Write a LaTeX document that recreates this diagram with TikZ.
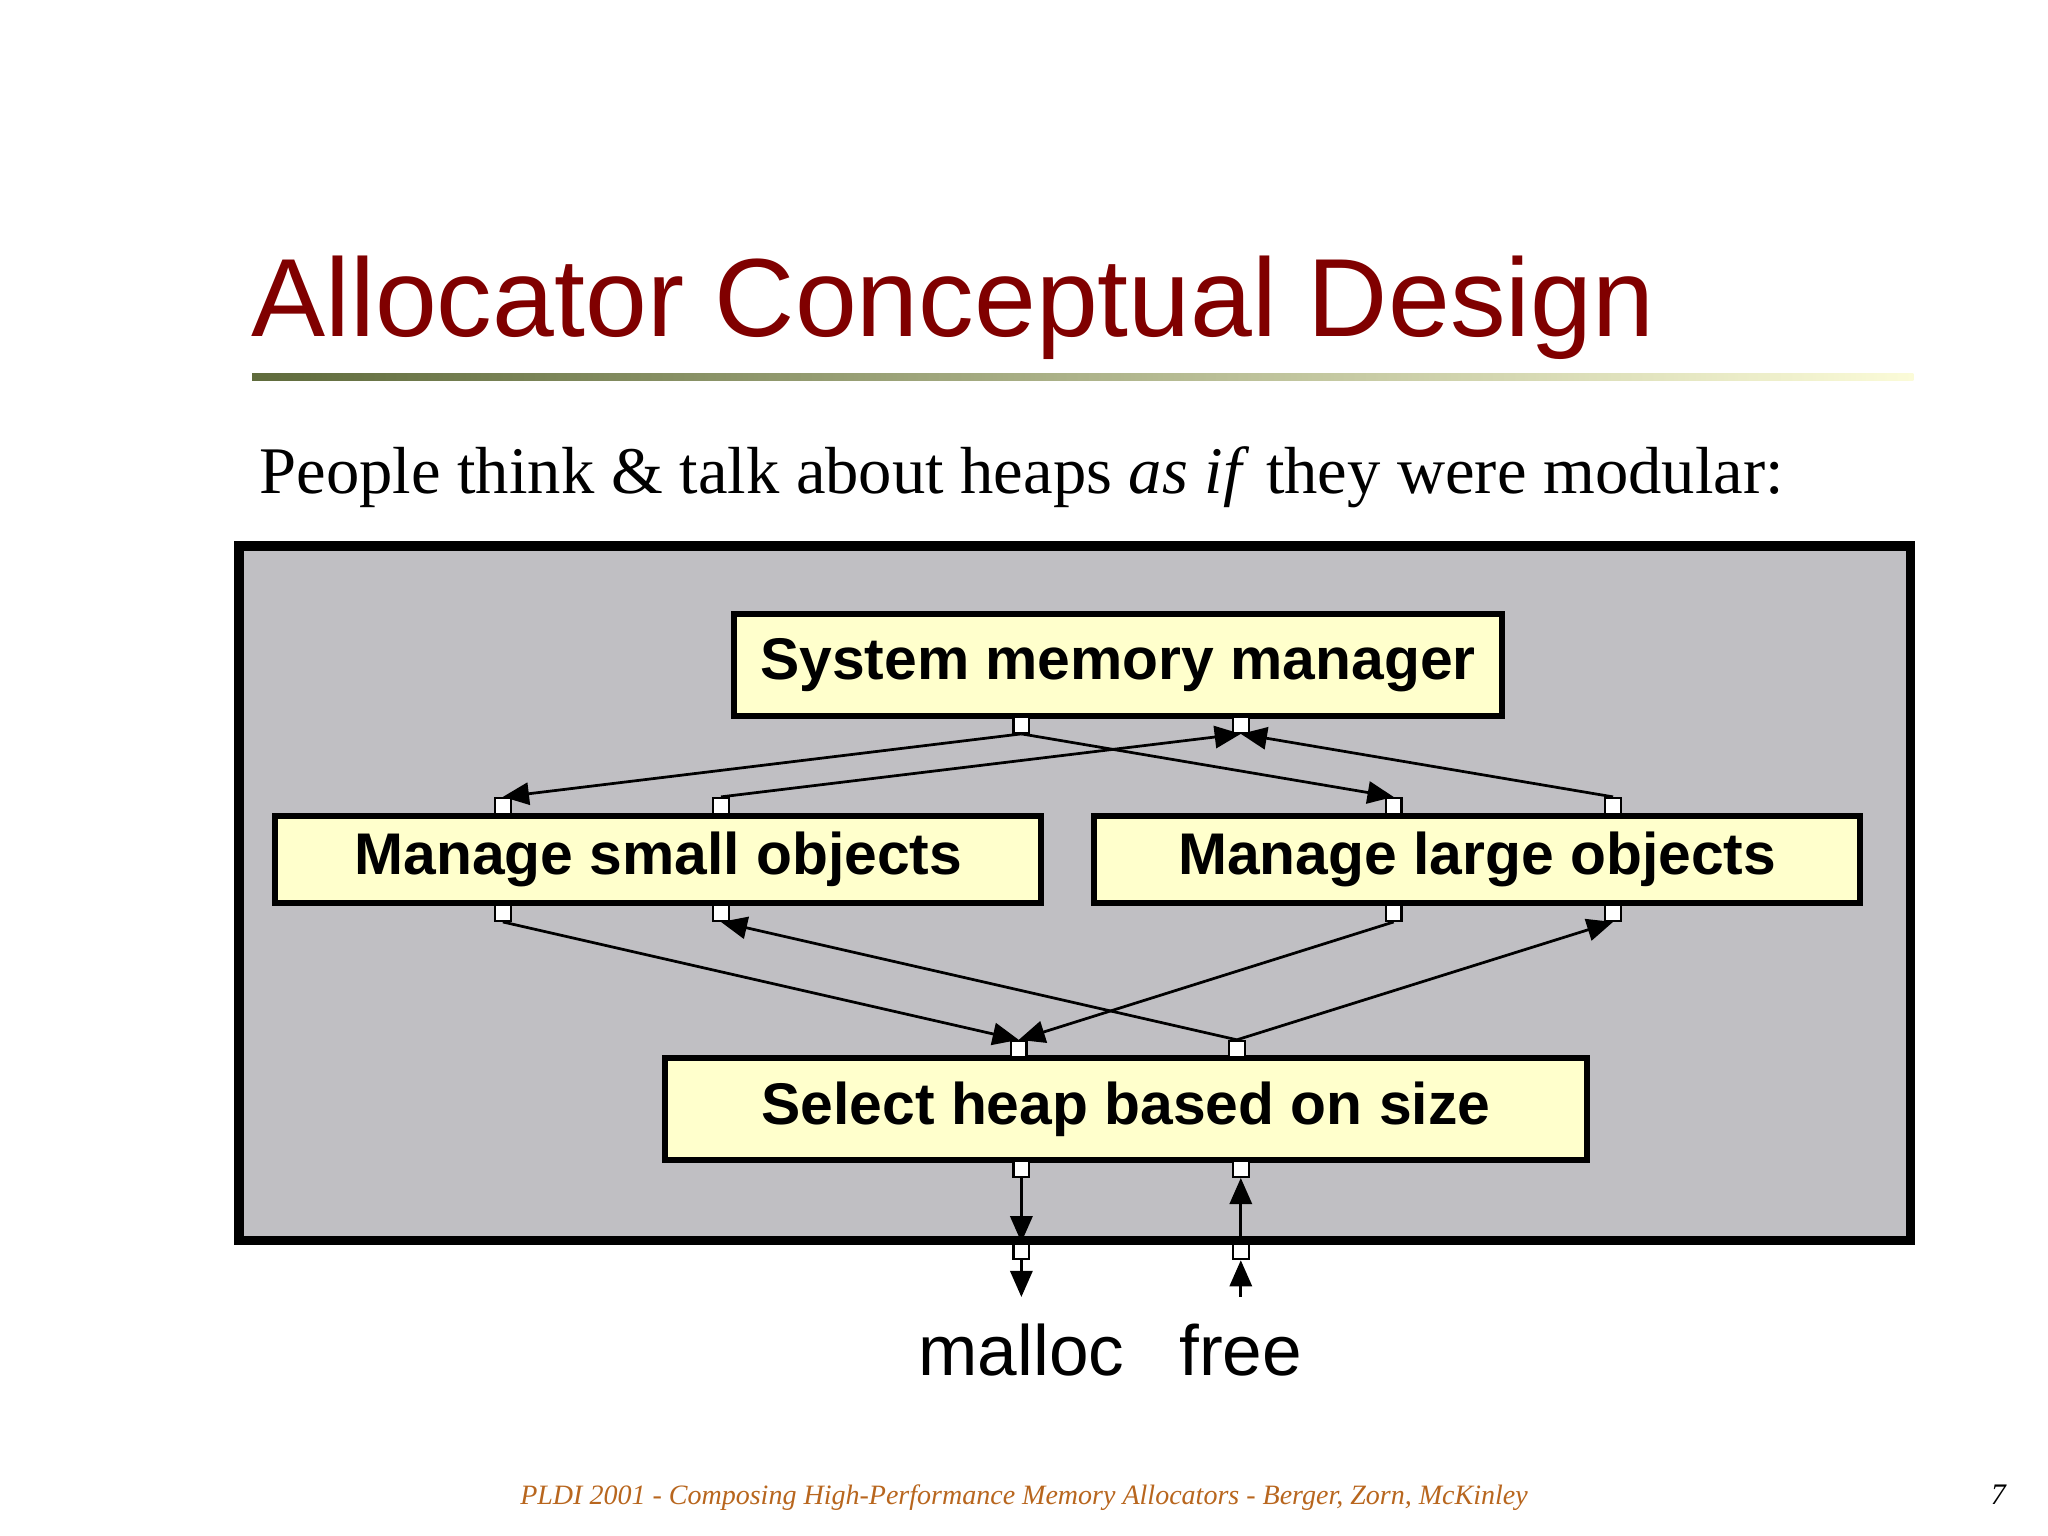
\documentclass[tikz,border=0pt]{standalone}
\usepackage{fontspec}
\setmainfont{Liberation Serif}
\setsansfont{Liberation Sans}
\usetikzlibrary{arrows.meta}
\definecolor{titlered}{HTML}{800000}
\definecolor{boxfill}{HTML}{FFFFCC}
\definecolor{panel}{HTML}{C0BFC3}
\definecolor{footcol}{HTML}{B8661E}
\definecolor{olivedark}{HTML}{5F6B3C}
\definecolor{palecream}{HTML}{FBFBD8}
\tikzset{
  box/.style={draw=black, line width=1.3pt, fill=boxfill, inner sep=0pt, font=\sffamily\bfseries\fontsize{12.8}{15}\selectfont},
  port/.style={draw=black, fill=white, line width=0.5pt, minimum size=0.12cm, inner sep=0pt},
  arr/.style={line width=0.6pt, -{Triangle[length=0.2cm,width=0.17cm]}},
  ln/.style={line width=0.6pt}
}
\begin{document}
\begin{tikzpicture}[x=0.01cm,y=-0.01cm]
\useasboundingbox (0,0) rectangle (1568,1176);
\fill[white] (0,0) rectangle (1568,1176);
% title
\node[anchor=base west, inner sep=0pt, text=titlered, font=\sffamily\fontsize{24.2}{28}\selectfont] (title) at (192,258) {Allocator Conceptual Design};
\shade[left color=olivedark, right color=palecream] (193,286) rectangle (1465,291);
\node[anchor=base west, inner sep=0pt, font=\fontsize{14.5}{17}\selectfont] (sub) at (198,378) {People think \& talk about heaps \textit{as if} they were modular:};
% panel
\draw[line width=2pt, fill=panel] (183,418) rectangle (1463,950);
% boxes
\node[box, minimum width=5.88cm, minimum height=0.78cm] (smm) at (856,509) {System memory manager};
\node[box, minimum width=5.86cm, minimum height=0.67cm] (sml) at (504,658) {Manage small objects};
\node[box, minimum width=5.86cm, minimum height=0.67cm] (lrg) at (1131,658) {Manage large objects};
\node[box, minimum width=7.05cm, minimum height=0.78cm] (sel) at (862,849) {Select heap based on size};
% ports
\node[port] (smmA) at (782,555) {};
\node[port] (smmB) at (950,555) {};
\node[port] (smlTA) at (385,617) {};
\node[port] (smlTB) at (552,617) {};
\node[port] (lrgTA) at (1067,617) {};
\node[port] (lrgTB) at (1235,617) {};
\node[port] (smlBA) at (385,699) {};
\node[port] (smlBB) at (552,699) {};
\node[port] (lrgBA) at (1067,699) {};
\node[port] (lrgBB) at (1235,699) {};
\node[port] (selTA) at (780,803) {};
\node[port] (selTB) at (947,803) {};
\node[port] (selBA) at (782,895) {};
\node[port] (selBB) at (950,895) {};
\node[port] (outA) at (782,958) {};
\node[port] (outB) at (950,958) {};
\coordinate (endA) at (782,993);
\coordinate (endB) at (950,993);
% connectors
\draw[arr] (smmA.south) -- (smlTA.north);
\draw[arr] (smmA.south) -- (lrgTA.north);
\draw[arr] (smlTB.north) -- (smmB.south);
\draw[arr] (lrgTB.north) -- (smmB.south);
\draw[arr] (smlBA.south) -- (selTA.north);
\draw[arr] (lrgBA.south) -- (selTA.north);
\draw[arr] (selTB.north) -- (smlBB.south);
\draw[arr] (selTB.north) -- (lrgBB.south);
\draw[arr] (selBA.south) -- (outA.north);
\draw[arr] (outB.north) -- (selBB.south);
\draw[arr] (outA.south) -- (endA);
\draw[arr] (endB) -- (outB.south);
% labels
\node[anchor=base, inner sep=0pt, font=\sffamily\fontsize{15.5}{18}\selectfont] (malloc) at (782,1053) {malloc};
\node[anchor=base, inner sep=0pt, font=\sffamily\fontsize{15.5}{18}\selectfont] (free) at (950,1053) {free};
\node[anchor=base, inner sep=0pt, text=footcol, font=\itshape\fontsize{6.1}{8}\selectfont] (foot) at (784,1152) {PLDI 2001 - Composing High-Performance Memory Allocators - Berger, Zorn, McKinley};
\node[anchor=base, inner sep=0pt, font=\itshape\fontsize{6.5}{8}\selectfont] (pg) at (1530,1152) {7};
\end{tikzpicture}
\end{document}
